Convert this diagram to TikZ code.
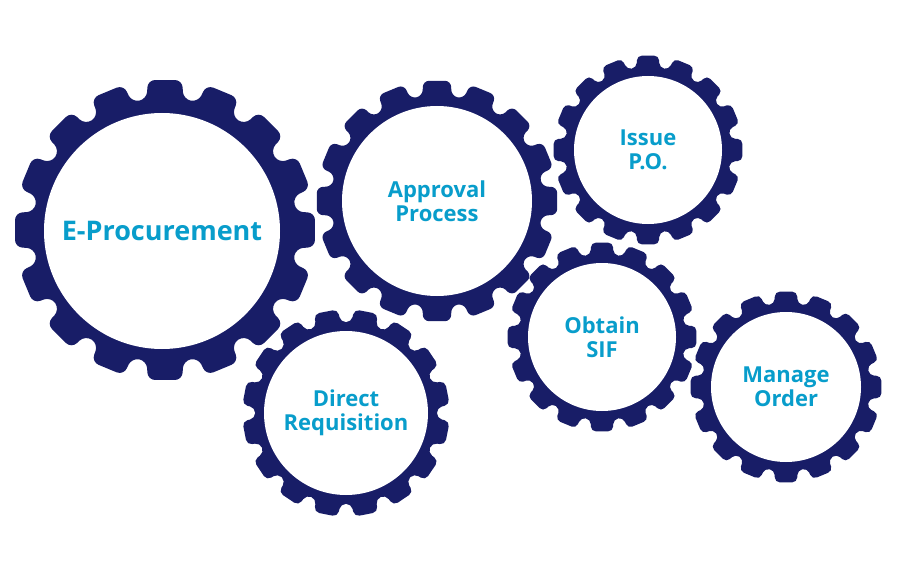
\documentclass[tikz,border=0pt]{standalone}
\usepackage{fontspec}
\setmainfont{Open Sans}
\definecolor{gearblue}{RGB}{24,29,103}
\definecolor{labelcyan}{RGB}{8,157,203}
\tikzset{
  gearfill/.style={fill=gearblue},
  hub/.style={circle,fill=white,inner sep=0pt,align=center,text=labelcyan,
    font=\fontsize{22}{24.5}\selectfont\bfseries}
}
% #1 centre, #2 outer radius, #3 turn of the teeth
\newcommand{\gearteeth}[3]{%
  \begin{scope}[shift={#1}]
  \fill[gearfill,rounded corners={0.05*#2pt}] ({#3-11.25}:{0.875*#2})
    \foreach \k in {0,...,15}{
      -- ({#3+\k*22.5-7.9}:{0.875*#2}) -- ({#3+\k*22.5-6.6}:{#2})
      -- ({#3+\k*22.5+6.6}:{#2}) -- ({#3+\k*22.5+7.9}:{0.875*#2})
    } -- cycle;
  \end{scope}}
\begin{document}
\begin{tikzpicture}[x=1pt,y=-1pt]
\useasboundingbox (0,0) rectangle (900,583);
\gearteeth{(165,230)}{151}{0}
\node[hub,minimum size=236pt,font=\fontsize{27}{30}\selectfont\bfseries] (eproc) at (162,231) {E-Procurement};
\gearteeth{(437,201)}{121}{0}
\node[hub,minimum size=190pt] (approval) at (437,201) {Approval\\Process};
\gearteeth{(648,150)}{95}{0}
\node[hub,minimum size=148pt] (issue) at (648,150) {Issue\\P.O.};
\gearteeth{(602,337)}{95}{0}
\node[hub,minimum size=148pt] (obtain) at (602,337) {Obtain\\SIF};
\gearteeth{(346,413)}{104}{11.25}
\node[hub,minimum size=164pt] (direct) at (346,413) {Direct\\Requisition};
\gearteeth{(786,387)}{96}{0}
\node[hub,minimum size=150pt] (manage) at (786,387) {Manage\\Order};
\end{tikzpicture}
\end{document}
